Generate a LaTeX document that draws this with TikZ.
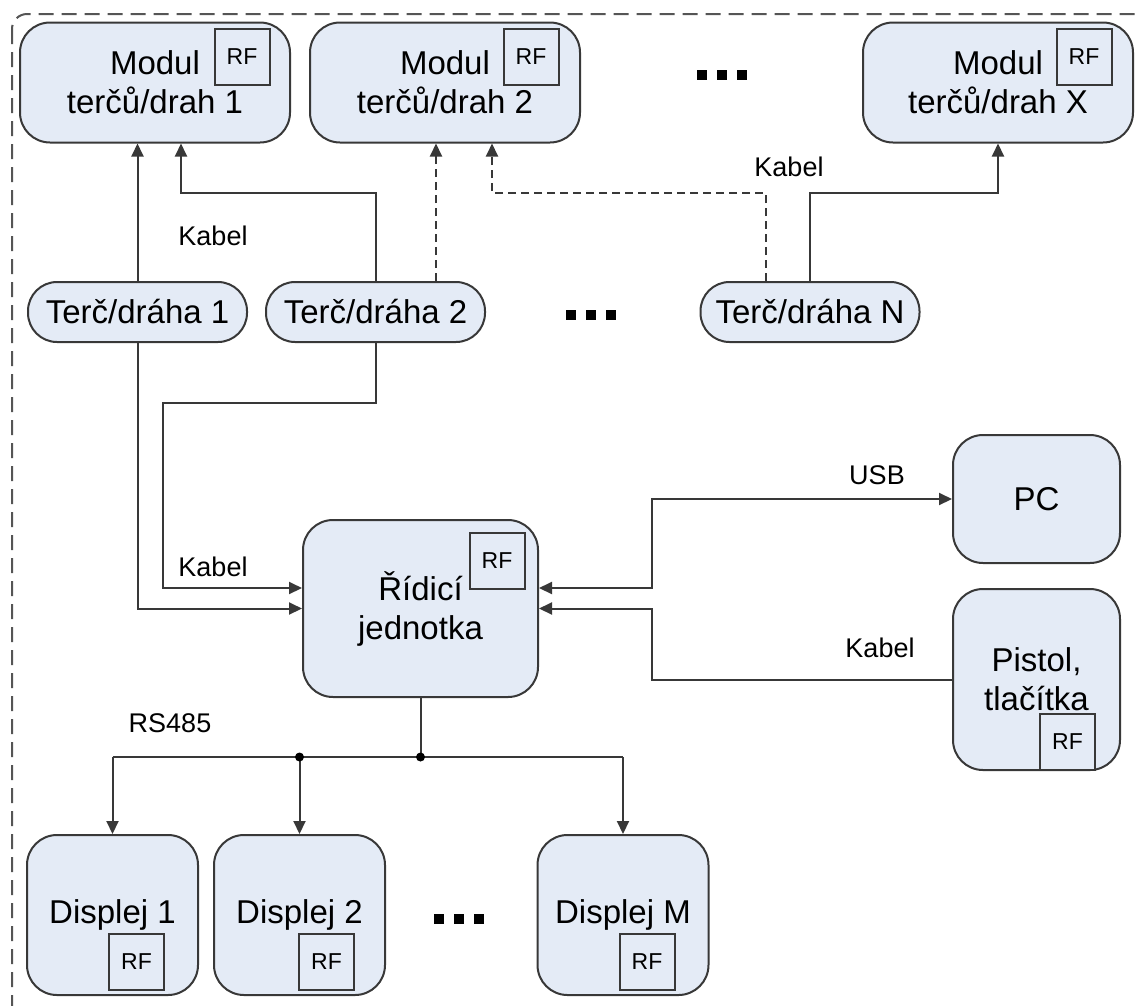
\documentclass[tikz,border=0pt]{standalone}
\usepackage{fontspec}
\setmainfont{Liberation Sans}
\usetikzlibrary{arrows.meta,calc}
\definecolor{boxfill}{HTML}{E4EBF6}
\definecolor{linec}{HTML}{383838}
\definecolor{framec}{HTML}{555555}

\begin{document}
\begin{tikzpicture}[x=1pt,y=-1pt,
  unit/.style={draw=linec, fill=boxfill, line width=2pt, rounded corners=30pt,
    align=center, inner sep=0pt, font=\fontsize{33}{39}\selectfont},
  lane/.style={unit, rounded corners=29pt, minimum width=219pt, minimum height=60pt},
  rfbox/.style={draw=linec, fill=boxfill, line width=2pt, minimum width=55pt,
    minimum height=56pt, inner sep=0pt, font=\fontsize{23}{25}\selectfont},
  lbl/.style={inner sep=0pt, font=\fontsize{27}{30}\selectfont},
  wire/.style={draw=linec, line width=2pt},
  arr/.style={wire, -{Triangle[length=13pt,width=12pt]}},
  darr/.style={wire, {Triangle[length=13pt,width=12pt]}-{Triangle[length=13pt,width=12pt]}},
  dwire/.style={arr, dash pattern=on 8pt off 5pt},
  junction/.style={fill=black}
]
\useasboundingbox (0,0) rectangle (1136,1005);

% outer dashed frame (runs past the right and bottom edges)
\begin{scope}
  \clip (0,0) rectangle (1136,1005);
  \draw[framec, line width=2pt, dash pattern=on 15pt off 8pt, rounded corners=15pt]
    (12,14) rectangle (1150,1030);
\end{scope}

% target / lane modules
\node[unit, minimum width=270pt, minimum height=120pt] (m1) at (155,82.5) {Modul\\terčů/drah 1};
\node[unit, minimum width=270pt, minimum height=120pt] (m2) at (445,82.5) {Modul\\terčů/drah 2};
\node[unit, minimum width=270pt, minimum height=120pt] (mx) at (998,82.5) {Modul\\terčů/drah X};
\node[rfbox] (rf1) at ($(m1)+(87,-25.5)$) {RF};
\node[rfbox] (rf2) at ($(m2)+(86,-25.5)$) {RF};
\node[rfbox] (rfx) at ($(mx)+(86,-25.5)$) {RF};

% lanes
\node[lane] (t1) at (137.5,312) {Terč/dráha 1};
\node[lane] (t2) at (375.5,312) {Terč/dráha 2};
\node[lane] (tn) at (810,312) {Terč/dráha N};

% control unit, PC, trigger
\node[unit, minimum width=235pt, minimum height=177pt] (r) at (420.5,608.5) {Řídicí\\jednotka};
\node[rfbox] (rfr) at ($(r)+(76.5,-47.5)$) {RF};
\node[unit, minimum width=167pt, minimum height=128pt] (pc) at (1036.5,499) {PC};
\node[unit, minimum width=167pt, minimum height=181pt] (p) at (1036.5,679.5) {Pistol,\\tlačítka};
\node[rfbox] (rfp) at ($(p)+(31,62)$) {RF};

% displays
\node[unit, minimum width=171pt, minimum height=160pt] (d1) at (112.5,915) {Displej 1};
\node[unit, minimum width=171pt, minimum height=160pt] (d2) at (299.5,915) {Displej 2};
\node[unit, minimum width=171pt, minimum height=160pt] (dm) at (623,915) {Displej M};
\node[rfbox] (rfd1) at ($(d1)+(24,47)$) {RF};
\node[rfbox] (rfd2) at ($(d2)+(27,47)$) {RF};
\node[rfbox] (rfdm) at ($(dm)+(24,47)$) {RF};

% ellipsis marks
\foreach \x in {697,717,737} \fill (\x,70) rectangle ++(10,10);
\foreach \x in {566,586,606} \fill (\x,310) rectangle ++(10,10);
\foreach \x in {434,454,474} \fill (\x,914) rectangle ++(10,10);

% labels
\node[lbl] (k1) at (213,236) {Kabel};
\node[lbl] (k2) at (789,167) {Kabel};
\node[lbl] (k3) at (213,567) {Kabel};
\node[lbl] (k4) at (880,648) {Kabel};
\node[lbl] (usb) at (877,475) {USB};
\node[lbl] (rs) at (170,723) {RS485};

% helper coordinates for bends
\coordinate (ka) at (181,193);
\coordinate (kb) at (492,193);
\coordinate (kc) at (766,193);
\coordinate (kd) at (998,193);
\coordinate (ke) at (436,0);
\coordinate (kf) at (163,403);
\coordinate (ky) at (0,588);
\coordinate (ku) at (652,0);
\coordinate (busy) at (0,757);

% lanes to modules
\draw[arr] (t1.north) -- (t1.north |- m1.south);
\draw[arr] (t2.north) |- (ka) -- (ka |- m1.south);
\draw[dwire] (t2.north -| ke) -- (ke |- m2.south);
\draw[dwire] (tn.north -| kc) -- (kc) -- (kb) -- (kb |- m2.south);
\draw[arr] (tn.north) |- (kd) -- (kd |- mx.south);

% lanes to control unit
\draw[arr] (t1.south) |- (r.west);
\draw[arr] (t2.south) |- (kf) |- (r.west |- ky);

% PC and trigger
\draw[darr] (r.east |- ky) -| (ku |- pc.west) -- (pc.west);
\draw[arr] (p.west) -| (ku |- r.east) -- (r.east);

% RS485 bus
\draw[wire] (r.south) -- (r.south |- busy);
\draw[wire] (d1.north |- busy) -- (dm.north |- busy);
\draw[arr] (d1.north |- busy) -- (d1.north);
\draw[arr] (d2.north |- busy) -- (d2.north);
\draw[arr] (dm.north |- busy) -- (dm.north);
\fill[junction] (r.south |- busy) circle (4.5pt);
\fill[junction] (d2.north |- busy) circle (4.5pt);
\end{tikzpicture}
\end{document}
